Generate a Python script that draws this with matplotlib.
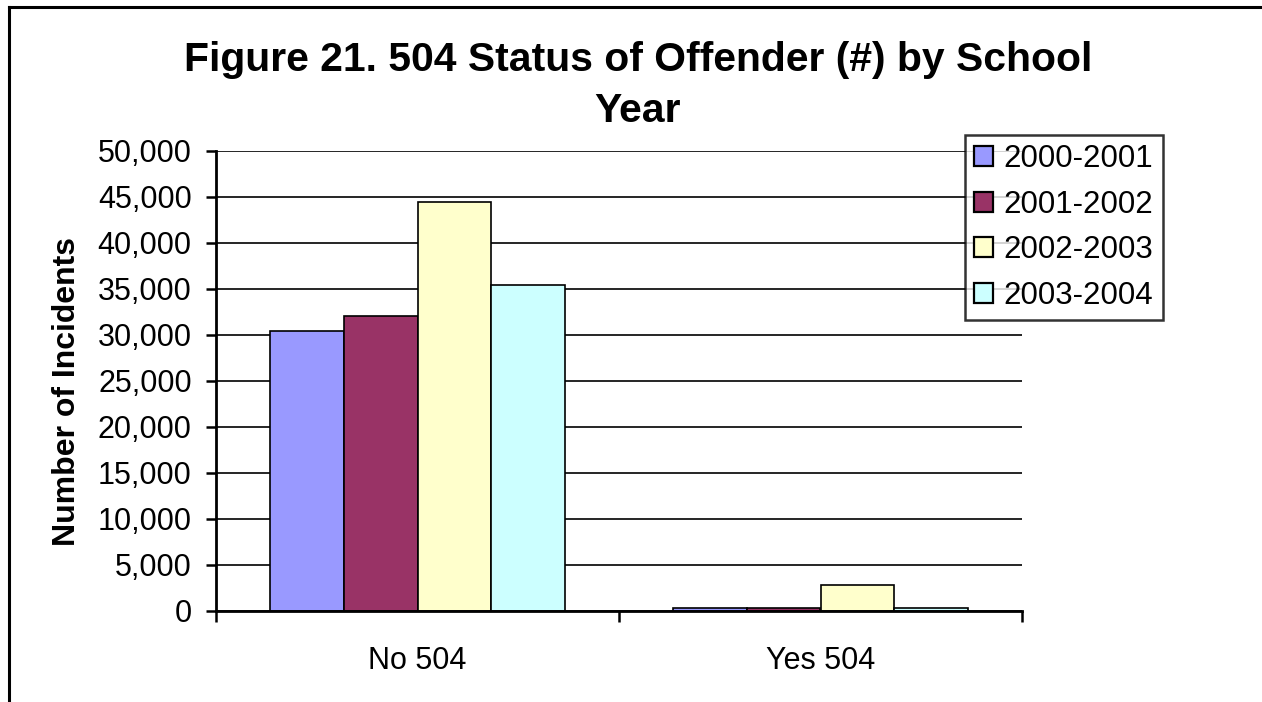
import matplotlib
matplotlib.use("Agg")
import matplotlib.pyplot as plt
from matplotlib.patches import Patch
from matplotlib.lines import Line2D
from matplotlib.ticker import FuncFormatter, FixedLocator

plt.rcParams['font.family'] = ['Liberation Sans', 'DejaVu Sans']

categories = ["No 504", "Yes 504"]
series_names = ["2000-2001", "2001-2002", "2002-2003", "2003-2004"]
values = {
    "2000-2001": [30400, 380],
    "2001-2002": [32100, 370],
    "2002-2003": [44500, 2830],
    "2003-2004": [35400, 380],
}
colors = ["#9999FF", "#993366", "#FFFFCC", "#CCFFFF"]
yticks = list(range(0, 50001, 5000))
title_lines = ["Figure 21. 504 Status of Offender (#) by School", "Year"]

W, H = 1262, 702
fig = plt.figure(figsize=(W / 100, H / 100), dpi=100)
ax = fig.add_axes([216 / W, 1 - 611 / H, (1022 - 216) / W, (611 - 151) / H])

bw = 0.1825
handles = []
for i, (name, col) in enumerate(zip(series_names, colors)):
    xs = [c + (i - 1.5) * bw for c in range(len(categories))]
    ax.bar(xs, values[name], width=bw, color=col, edgecolor="black",
           linewidth=1.2, zorder=3)
    handles.append(Patch(facecolor=col, edgecolor="black", linewidth=1.6, label=name))

ax.set_xlim(-0.5, len(categories) - 0.5)
ax.set_ylim(0, 50000)
ax.yaxis.set_major_locator(FixedLocator(yticks))
ax.yaxis.set_major_formatter(FuncFormatter(lambda v, p: f"{int(v):,}"))
ax.yaxis.grid(True, color="black", linewidth=1.2, zorder=0)

ax.xaxis.set_major_locator(FixedLocator([-0.5, 0.5, 1.5]))
ax.xaxis.set_major_formatter(FuncFormatter(lambda v, p: ""))
ax.xaxis.set_minor_locator(FixedLocator(list(range(len(categories)))))
ax.set_xticklabels(categories, minor=True)

ax.tick_params(axis="y", which="major", direction="out", length=7.5, width=1.8,
               labelsize=22, pad=10)
ax.tick_params(axis="x", which="major", direction="out", length=8, width=1.8)
ax.tick_params(axis="x", which="minor", length=0, labelsize=22, pad=25)

for s in ["top", "right"]:
    ax.spines[s].set_visible(False)
for s in ["left", "bottom"]:
    ax.spines[s].set_linewidth(2.0)
    ax.spines[s].set_zorder(4)

fig.text(638 / W, 1 - 70.7 / H, title_lines[0], ha="center", va="baseline",
         fontsize=29.4, fontweight="bold")
fig.text(638 / W, 1 - 121.5 / H, title_lines[1], ha="center", va="baseline",
         fontsize=29.4, fontweight="bold")

fig.text(67 / W, 1 - 391.5 / H, "Number of Incidents", rotation=90, ha="center",
         va="center", fontsize=23, fontweight="bold")

leg = fig.legend(handles=handles, loc="upper left",
                 bbox_to_anchor=(964.7 / W, 1 - 134.7 / H),
                 fontsize=22.5, frameon=True, fancybox=False, shadow=False,
                 handlelength=0.6, handleheight=0.6, handletextpad=0.35,
                 labelspacing=0.5, borderpad=0.3, borderaxespad=0)
leg.get_frame().set_edgecolor("black")
leg.get_frame().set_linewidth(1.8)

fig.add_artist(Line2D([9 / W, 9 / W], [0, 1 - 7.3 / H], transform=fig.transFigure,
                      color="black", linewidth=2.2))
fig.add_artist(Line2D([9 / W, 1], [1 - 7.3 / H, 1 - 7.3 / H], transform=fig.transFigure,
                      color="black", linewidth=2.2))

fig.savefig("out.png", dpi=100)
